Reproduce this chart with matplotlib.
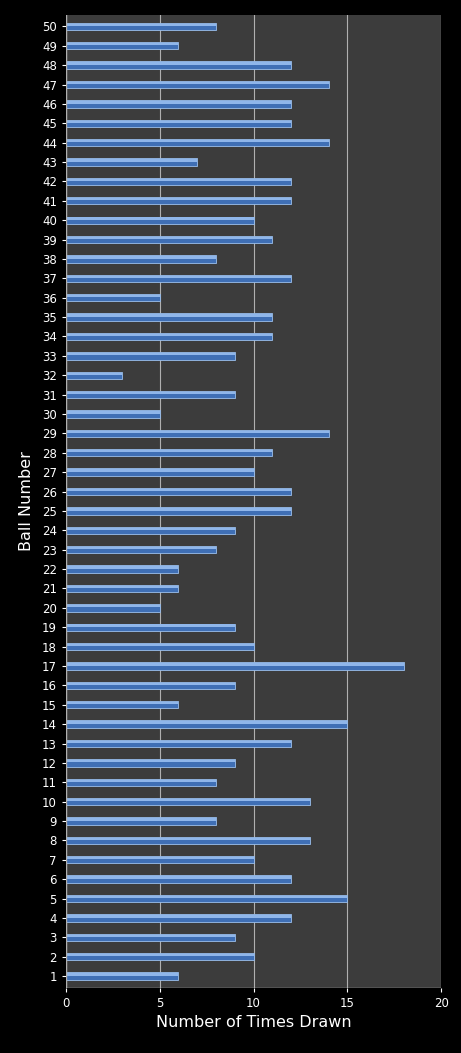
import matplotlib
matplotlib.use("Agg")
import matplotlib.pyplot as plt

balls = list(range(1, 51))
times_drawn = [6, 10, 9, 12, 15, 12, 10, 13, 8, 13,
               8, 9, 12, 15, 6, 9, 18, 10, 9, 5,
               6, 6, 8, 9, 12, 12, 10, 11, 14, 5,
               9, 3, 9, 11, 11, 5, 12, 8, 11, 10,
               12, 12, 7, 14, 12, 12, 14, 12, 6, 8]
x_ticks = [0, 5, 10, 15, 20]

fig = plt.figure(figsize=(4.61, 10.53), dpi=100, facecolor="black")
ax = fig.add_axes([0.143, 0.062, 0.814, 0.924])
ax.set_facecolor("#3c3c3c")

# bar body plus a lighter top strip to fake the bevel
ax.barh(balls, times_drawn, height=0.38, color="#3f6fb5", edgecolor="#9cc0ec", linewidth=0.6, zorder=3)
ax.barh([b + 0.08 for b in balls], times_drawn, height=0.12, color="#8fb6ea", linewidth=0, zorder=4)

ax.set_xlim(0, 20)
ax.set_ylim(0.4, 50.6)
ax.set_xticks(x_ticks)
ax.set_yticks(balls)
ax.grid(axis="x", color="#b0b0b0", linewidth=0.8, zorder=0)
for s in ax.spines.values():
    s.set_visible(False)
ax.axvline(0, color="#b0b0b0", linewidth=1, zorder=5)
ax.axhline(0.4, color="#b0b0b0", linewidth=1, zorder=5)
ax.tick_params(colors="white", labelsize=8.5, length=3)
ax.set_xlabel("Number of Times Drawn", color="white", fontsize=11.5)
ax.set_ylabel("Ball Number", color="white", fontsize=11.5, labelpad=6)

fig.savefig("out.png", dpi=100, facecolor="black")
